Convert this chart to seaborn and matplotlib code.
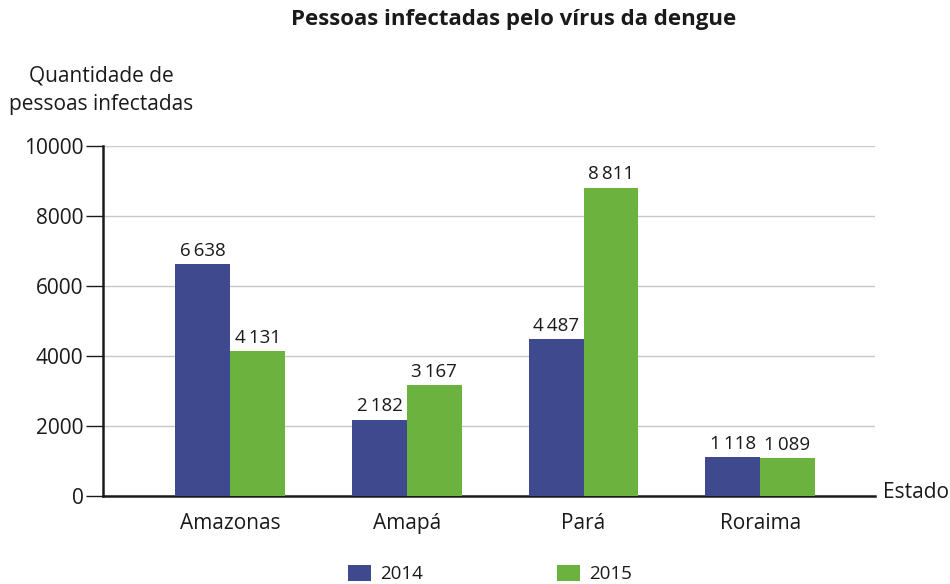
import matplotlib
matplotlib.use("Agg")
import matplotlib.pyplot as plt
import seaborn as sns
import pandas as pd
from matplotlib.patches import Patch

estados = ["Amazonas", "Amapá", "Pará", "Roraima"]
anos = ["2014", "2015"]
casos_2014 = [6638, 2182, 4487, 1118]
casos_2015 = [4131, 3167, 8811, 1089]
y_ticks = [0, 2000, 4000, 6000, 8000, 10000]
cores = ["#3f4a8e", "#6bb23f"]

df = pd.DataFrame({
    "Estado": estados * 2,
    "Ano": [anos[0]] * 4 + [anos[1]] * 4,
    "Casos": casos_2014 + casos_2015,
})

sns.set_theme(style="white")
plt.rcParams["font.family"] = ["Open Sans", "DejaVu Sans"]
plt.rcParams["text.color"] = "#1a1a1a"

fig = plt.figure(figsize=(9.5, 5.84), dpi=100)
ax = fig.add_axes([103 / 950, 1 - 496 / 584, (875 - 103) / 950, (496 - 146) / 584])

sns.barplot(data=df, x="Estado", y="Casos", hue="Ano", palette=cores,
            width=0.62, saturation=1, linewidth=0, ax=ax, legend=False,
            zorder=3)

for cont in ax.containers:
    ax.bar_label(cont, labels=[f"{int(v.get_height()):,}".replace(",", "\u2009")
                               for v in cont],
                 padding=3, fontsize=13.5, color="#1a1a1a")

ax.set_ylim(0, 10000)
ax.set_xlim(-0.72, 3.65)
ax.set_yticks(y_ticks)
ax.set_yticklabels([str(t) for t in y_ticks], fontsize=15)
ax.set_xlabel("")
ax.set_ylabel("")
ax.tick_params(axis="x", length=0, pad=12, labelsize=15, colors="#1a1a1a")
ax.tick_params(axis="y", length=12, width=1, pad=2, direction="out",
               left=True, colors="#1a1a1a")
ax.yaxis.grid(True, color="#c8c8c8", linewidth=1, zorder=0)
ax.set_axisbelow(True)
for s in ["top", "right"]:
    ax.spines[s].set_visible(False)
ax.spines["left"].set_color("#1a1a1a")
ax.spines["left"].set_linewidth(1.8)
ax.spines["bottom"].set_color("#1a1a1a")
ax.spines["bottom"].set_linewidth(1.8)

fig.text(514 / 950, 1 - 19 / 584, "Pessoas infectadas pelo vírus da dengue",
         ha="center", va="center", fontsize=16, fontweight="bold")
fig.text(101 / 950, 1 - 90 / 584, "Quantidade de\npessoas infectadas",
         ha="center", va="center", fontsize=15, multialignment="center",
         linespacing=1.5)
fig.text(883 / 950, 1 - 493 / 584, "Estado", ha="left", va="center", fontsize=15)

handles = [Patch(facecolor=c, edgecolor="none") for c in cores]
fig.legend(handles, anos, loc="center", bbox_to_anchor=(490 / 950, 1 - 574 / 584),
           ncol=2, frameon=False, fontsize=13.5, handlelength=1.23,
           handleheight=1.0, handletextpad=0.53, columnspacing=7.1)

fig.savefig("out.png", dpi=100)
